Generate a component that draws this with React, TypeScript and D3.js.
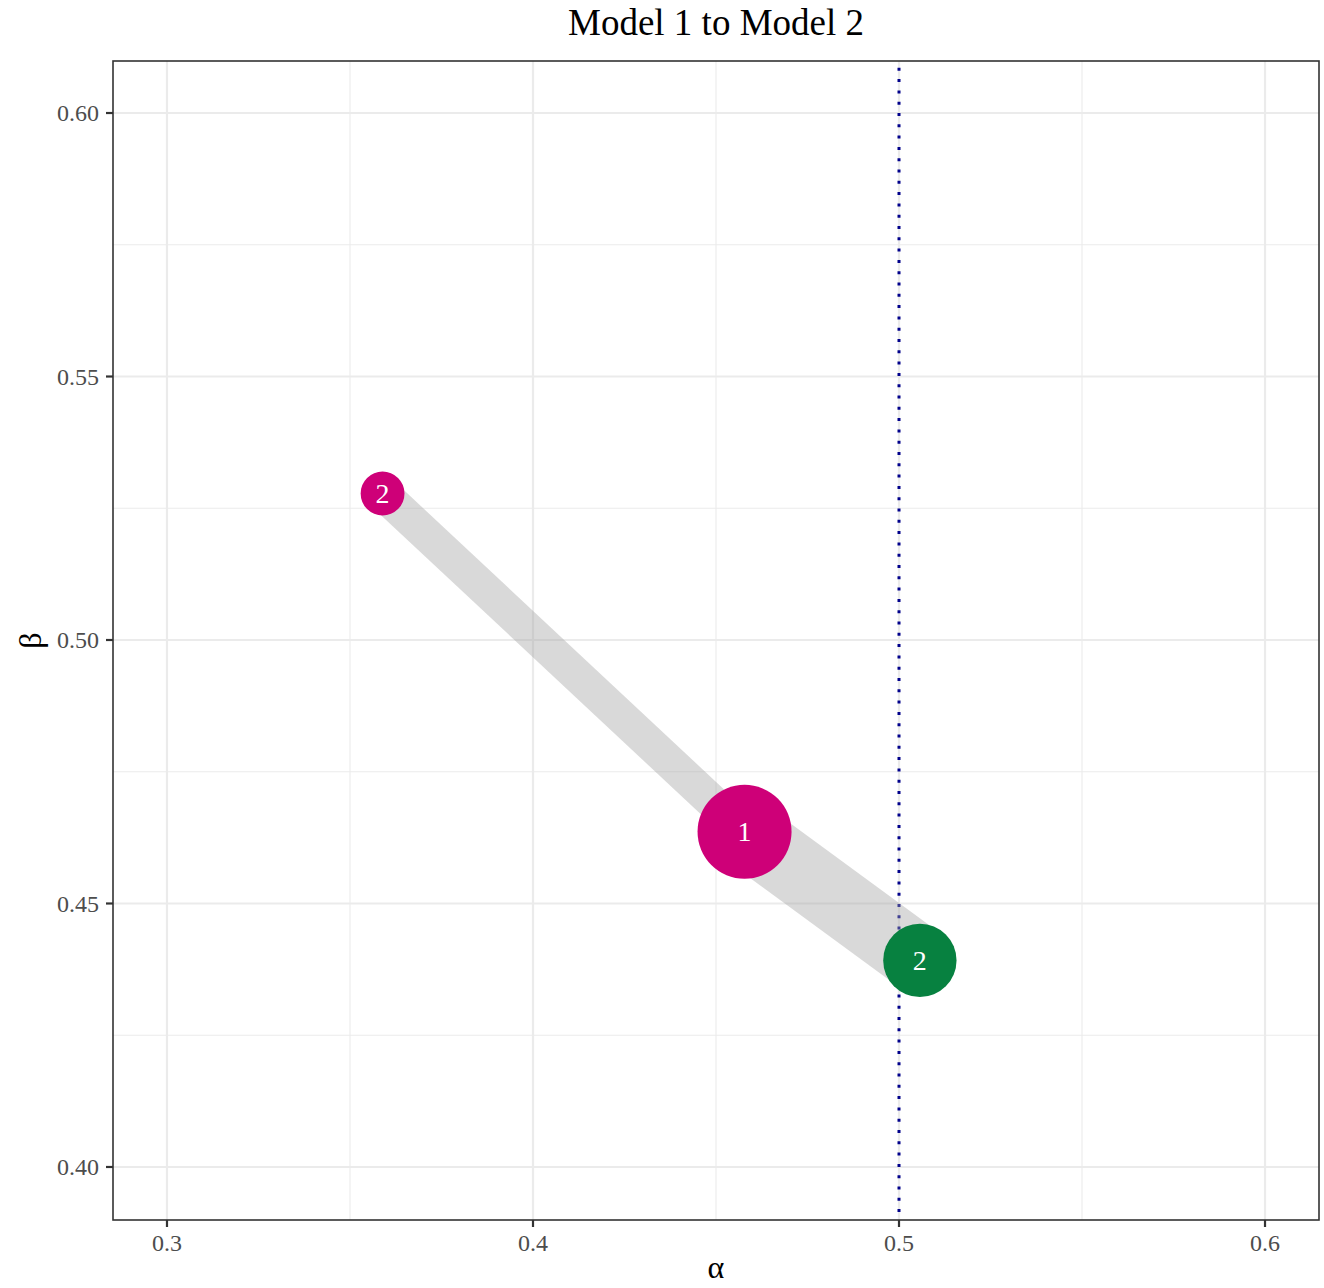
import React from "react";
import * as d3 from "d3";

const title = "Model 1 to Model 2";
const xTicks = [0.3, 0.4, 0.5, 0.6];
const xMinor = [0.35, 0.45, 0.55];
const yTicks = [0.4, 0.45, 0.5, 0.55, 0.6];
const yMinor = [0.425, 0.475, 0.525, 0.575];
const refAlpha = 0.5;

// points
const pointLabels = ["2", "1", "2"];
const pointAlpha = [0.3589, 0.4578, 0.5057];
const pointBeta = [0.5278, 0.4636, 0.4392];
const pointCount = [5, 23, 14];
const pointColors = ["#CE0078", "#CE0078", "#078140"];

// links: from point index -> to point index, with flow value
const linkFrom = [1, 1];
const linkTo = [0, 2];
const linkFlow = [5, 10];

const W = 1324;
const H = 1288;
const left = 113, right = 1319, top = 61, bottom = 1220;
const FONT = "'Liberation Serif', 'Times New Roman', serif";

export default function App() {
  const x = d3.scaleLinear().domain([0.28525, 0.61475]).range([left, right]);
  const y = d3.scaleLinear().domain([0.38994, 0.60987]).range([bottom, top]);
  const r = d3.scaleSqrt().domain([0, 23]).range([0, 47]);
  const lw = d3.scaleLinear().domain([0, 10]).range([0, 68]);

  const links = linkFrom.map((f, i) => {
    const x1 = x(pointAlpha[f]), y1 = y(pointBeta[f]);
    const x2 = x(pointAlpha[linkTo[i]]), y2 = y(pointBeta[linkTo[i]]);
    const dx = x2 - x1, dy = y2 - y1;
    const len = Math.hypot(dx, dy);
    const nx = -dy / len, ny = dx / len;
    const hw = lw(linkFlow[i]) / 2;
    const pts: [number, number][] = [
      [x1 + nx * hw, y1 + ny * hw],
      [x2 + nx * hw, y2 + ny * hw],
      [x2 - nx * hw, y2 - ny * hw],
      [x1 - nx * hw, y1 - ny * hw],
    ];
    return d3.line()(pts) + "Z";
  });

  return (
    <svg width={W} height={H} style={{ position: "absolute", left: 0, top: 0, background: "#fff" }}>
      <rect x={0} y={0} width={W} height={H} fill="#fff" />
      <defs>
        <clipPath id="panel">
          <rect x={left} y={top} width={right - left} height={bottom - top} />
        </clipPath>
      </defs>
      {xMinor.map((v) => (
        <line key={"xm" + v} x1={x(v)} x2={x(v)} y1={top} y2={bottom} stroke="#EBEBEB" strokeWidth={1.1} />
      ))}
      {yMinor.map((v) => (
        <line key={"ym" + v} x1={left} x2={right} y1={y(v)} y2={y(v)} stroke="#EBEBEB" strokeWidth={1.1} />
      ))}
      {xTicks.map((v) => (
        <line key={"xg" + v} x1={x(v)} x2={x(v)} y1={top} y2={bottom} stroke="#EBEBEB" strokeWidth={2.2} />
      ))}
      {yTicks.map((v) => (
        <line key={"yg" + v} x1={left} x2={right} y1={y(v)} y2={y(v)} stroke="#EBEBEB" strokeWidth={2.2} />
      ))}
      <g clipPath="url(#panel)">
        <line
          x1={x(refAlpha)}
          x2={x(refAlpha)}
          y1={top}
          y2={bottom}
          stroke="#00008B"
          strokeWidth={3}
          strokeDasharray="3 8.3"
          strokeDashoffset={-6.8}
        />
        {links.map((d, i) => (
          <path key={"l" + i} d={d} fill="#A0A0A0" fillOpacity={0.4} />
        ))}
        {pointLabels.map((lab, i) => (
          <g key={"p" + i}>
            <circle cx={x(pointAlpha[i])} cy={y(pointBeta[i])} r={r(pointCount[i])} fill={pointColors[i]} />
            <text
              x={x(pointAlpha[i])}
              y={y(pointBeta[i])}
              dy="0.34em"
              textAnchor="middle"
              fill="#fff"
              fontFamily={FONT}
              fontSize={28}
            >
              {lab}
            </text>
          </g>
        ))}
      </g>
      <rect x={left} y={top} width={right - left} height={bottom - top} fill="none" stroke="#333" strokeWidth={1.6} />
      {xTicks.map((v) => (
        <g key={"xt" + v}>
          <line x1={x(v)} x2={x(v)} y1={bottom} y2={bottom + 7} stroke="#333" strokeWidth={2.2} />
          <text x={x(v)} y={1251} textAnchor="middle" fill="#4D4D4D" fontFamily={FONT} fontSize={24}>
            {d3.format(".1f")(v)}
          </text>
        </g>
      ))}
      {yTicks.map((v) => (
        <g key={"yt" + v}>
          <line x1={left - 7} x2={left} y1={y(v)} y2={y(v)} stroke="#333" strokeWidth={2.2} />
          <text x={99} y={y(v)} dy="0.34em" textAnchor="end" fill="#4D4D4D" fontFamily={FONT} fontSize={24}>
            {d3.format(".2f")(v)}
          </text>
        </g>
      ))}
      <text x={(left + right) / 2} y={1278} textAnchor="middle" fill="#000" fontFamily={FONT} fontSize={32}>
        α
      </text>
      <text
        transform={`translate(41, ${(top + bottom) / 2}) rotate(-90)`}
        textAnchor="middle"
        fill="#000"
        fontFamily={FONT}
        fontSize={32}
      >
        β
      </text>
      <text x={(left + right) / 2} y={35} textAnchor="middle" fill="#000" fontFamily={FONT} fontSize={37}>
        {title}
      </text>
    </svg>
  );
}
